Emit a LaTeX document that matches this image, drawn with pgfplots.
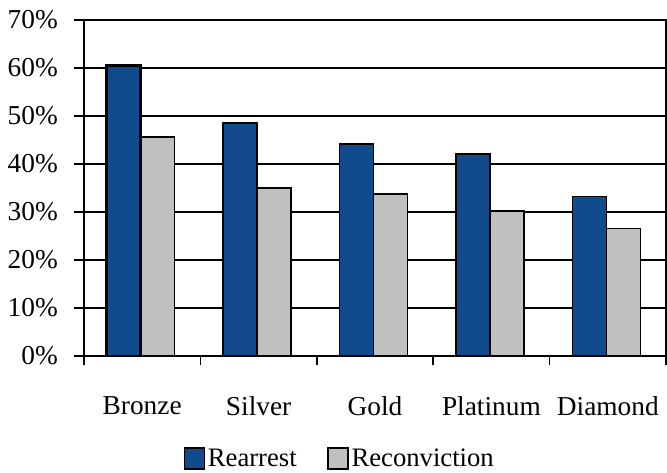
\documentclass[border=0pt]{standalone}
\usepackage{pgfplots}
\pgfplotsset{compat=1.18}
\usepackage{fontspec}
\setmainfont{Liberation Serif}
\setsansfont{Liberation Serif}
\newlength\px \setlength\px{0.75pt}
\definecolor{barblue}{RGB}{17,75,140}
\definecolor{bargray}{RGB}{192,192,192}
\begin{document}
\begin{tikzpicture}
\rmfamily\fontsize{20}{24}\selectfont
\begin{axis}[
 name=ax, at={(0,0)}, anchor=south west,
 scale only axis, width=582\px, height=336\px,
 ymin=0, ymax=70, ytick={0,10,...,70},
 yticklabel={\pgfmathprintnumber{\tick}\%},
 xmin=-0.5, xmax=4.5,
 xtick={0,...,4}, xticklabels={Bronze,Silver,Gold,Platinum,Diamond},
 minor xtick={-0.5,0.5,...,4.5},
 tick align=outside, tick pos=left,
 major tick length=10\px, minor tick length=9\px,
 major x tick style={draw=none},
 minor x tick style={black, line width=1.5\px},
 y tick style={black, line width=1.5\px},
 ymajorgrids, major grid style={black, line width=1.5\px},
 axis line style={line width=2.5\px},
 every tick label/.append style={font=\rmfamily\fontsize{20.5}{24}\selectfont},
 /pgf/number format/assume math mode=true,
 xticklabel style={yshift=-21\px},
 yticklabel style={xshift=-7\px},
 ybar=0pt, bar width=34\px,
 legend style={at={(0.44,-0.31)}, anchor=center, draw=none, legend columns=2,
   font=\rmfamily\fontsize{20}{24}\selectfont, /tikz/every even column/.append style={column sep=28\px}},
 legend image code/.code={\draw[#1, line width=1.5\px] (0,-0.33em) rectangle (0.75em,0.45em);},
]
\addplot[fill=barblue, draw=black, line width=1.5\px, bar shift=-18.5\px] coordinates {(0,60.6)(1,48.5)(2,44.2)(3,42.1)(4,33.2)};
\addlegendentry{Rearrest}
\addplot[fill=bargray, draw=black, line width=1.5\px, bar shift=15.5\px] coordinates {(0,45.6)(1,35.0)(2,33.8)(3,30.2)(4,26.6)};
\addlegendentry{Reconviction}
\addplot[fill=barblue, draw=black, line width=3\px, bar shift=-18.5\px, forget plot] coordinates {(0,60.6)};
\end{axis}
\pgfresetboundingbox
\path[use as bounding box] (ax.south west) ++(-84\px,-116\px) rectangle ++(667\px,472\px);
\end{tikzpicture}
\end{document}
